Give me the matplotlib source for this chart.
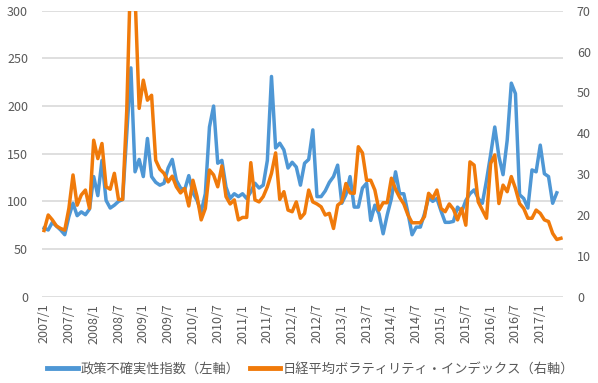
import numpy as np
import matplotlib
matplotlib.use("Agg")
import matplotlib.pyplot as plt

plt.rcParams['font.family'] = ['Noto Sans CJK JP', 'DejaVu Sans']

# monthly series starting 2007/1
START_YEAR = 2007

# policy uncertainty index (left axis)
epu = [72, 70, 78, 74, 70, 65, 84, 98, 85, 89, 86, 92, 126, 106, 143, 101, 93, 96, 100, 102, 171, 240, 131, 144, 126,
       166, 126, 120, 117, 119, 135, 144, 122, 114, 112, 127, 109, 101, 89, 108, 178, 200, 140, 143, 115, 103, 108, 105, 108, 103, 110,
       119, 114, 117, 143, 231, 156, 161, 154, 135, 141, 136, 117, 140, 144, 175, 105, 105, 111, 120, 126, 138, 98, 107, 126, 94,
       94, 114, 119, 80, 96, 87, 66, 86, 103, 131, 108, 108, 88, 65, 73, 73, 87, 104, 100, 103, 90, 78, 78, 79, 94,
       89, 101, 108, 112, 103, 98, 122, 149, 178, 147, 128, 164, 224, 213, 107, 103, 93, 133, 131, 159, 129, 126, 98, 109]

# Nikkei VI (right axis)
nvi = [16.2, 20.0, 18.8, 17.3, 16.7, 16.3, 21.6, 29.8, 22.4, 24.9, 26.1, 21.6, 38.3, 33.8, 37.5, 26.9, 26.3, 30.2, 23.8, 23.8, 45.7, 82, 74, 46.1, 53,
       48.1, 49.3, 33.4, 31.2, 30.2, 28.1, 29.5, 26.9, 25.4, 26.5, 22.2, 28.5, 24.5, 18.8, 21.6, 31.0, 29.8, 26.9, 32.0, 24.5, 22.7, 23.7, 18.8, 19.4, 19.4, 32.8,
       23.7, 23.2, 24.5, 26.9, 30.2, 35.2, 23.8, 25.7, 21.2, 20.8, 23.2, 19.2, 20.4, 26.1, 23.2, 22.7, 22.0, 20.0, 20.4, 16.7, 22.4, 23.2, 27.7, 25.4, 25.3,
       36.7, 35.2, 28.5, 28.5, 26.1, 21.2, 23.0, 23.0, 29.0, 26.3, 24.3, 22.7, 20.0, 18.1, 18.1, 18.1, 19.6, 25.3, 24.1, 26.1, 21.6, 20.8, 22.7, 21.4, 18.8,
       21.6, 17.5, 33.0, 32.2, 23.2, 21.2, 19.2, 32.6, 34.7, 22.8, 27.3, 25.7, 29.4, 26.5, 22.8, 21.6, 19.2, 19.2, 21.2, 20.4, 18.8, 18.4, 15.5, 14.0, 14.3]

label_epu = "政策不確実性指数（左軸）"
label_nvi = "日経平均ボラティリティ・インデックス（右軸）"

BLUE = "#4E97D5"
ORANGE = "#F07A0A"
GRID = "#D9D9D9"
TXT = "#595959"

n = len(nvi)
tick_idx = np.arange(0, 121, 6)
tick_lab = [f"{START_YEAR + i // 12}/{1 + i % 12}" for i in tick_idx]

fig = plt.figure(figsize=(5.98, 3.83), dpi=100)
ax = fig.add_axes([42 / 598, 1 - 296.7 / 383, 521 / 598, 286 / 383])
ax2 = ax.twinx()

ax.plot(np.arange(len(epu)), epu, color=BLUE, lw=2.5, solid_joinstyle="round", label=label_epu)
ax2.plot(np.arange(n), nvi, color=ORANGE, lw=2.5, solid_joinstyle="round", label=label_nvi)

ax.set_xlim(-0.5, n - 0.5)
ax.set_ylim(0, 300)
ax.set_yticks(np.arange(0, 301, 50))
ax2.set_ylim(0, 70)
ax2.set_yticks(np.arange(0, 71, 10))
ax.yaxis.grid(True, color=GRID, lw=1.2)
ax.set_axisbelow(True)

ax.set_xticks(tick_idx)
ax.set_xticklabels(tick_lab, rotation=90)

for a in (ax, ax2):
    for s in a.spines.values():
        s.set_visible(False)
    a.tick_params(length=0, labelsize=9, colors=TXT)
ax.tick_params(axis="y", pad=10)
ax2.tick_params(axis="y", pad=10)
ax.tick_params(axis="x", pad=5)

h1, l1 = ax.get_legend_handles_labels()
h2, l2 = ax2.get_legend_handles_labels()
leg = fig.legend(h1 + h2, l1 + l2, loc="lower center", bbox_to_anchor=(0.52, -0.012),
                 ncol=2, frameon=False, fontsize=9.5, handlelength=2.3,
                 columnspacing=0.8, handletextpad=0.2)
for t in leg.get_texts():
    t.set_color(TXT)
for lh in leg.get_lines():
    lh.set_linewidth(3.5)

fig.savefig("out.png", dpi=100)
